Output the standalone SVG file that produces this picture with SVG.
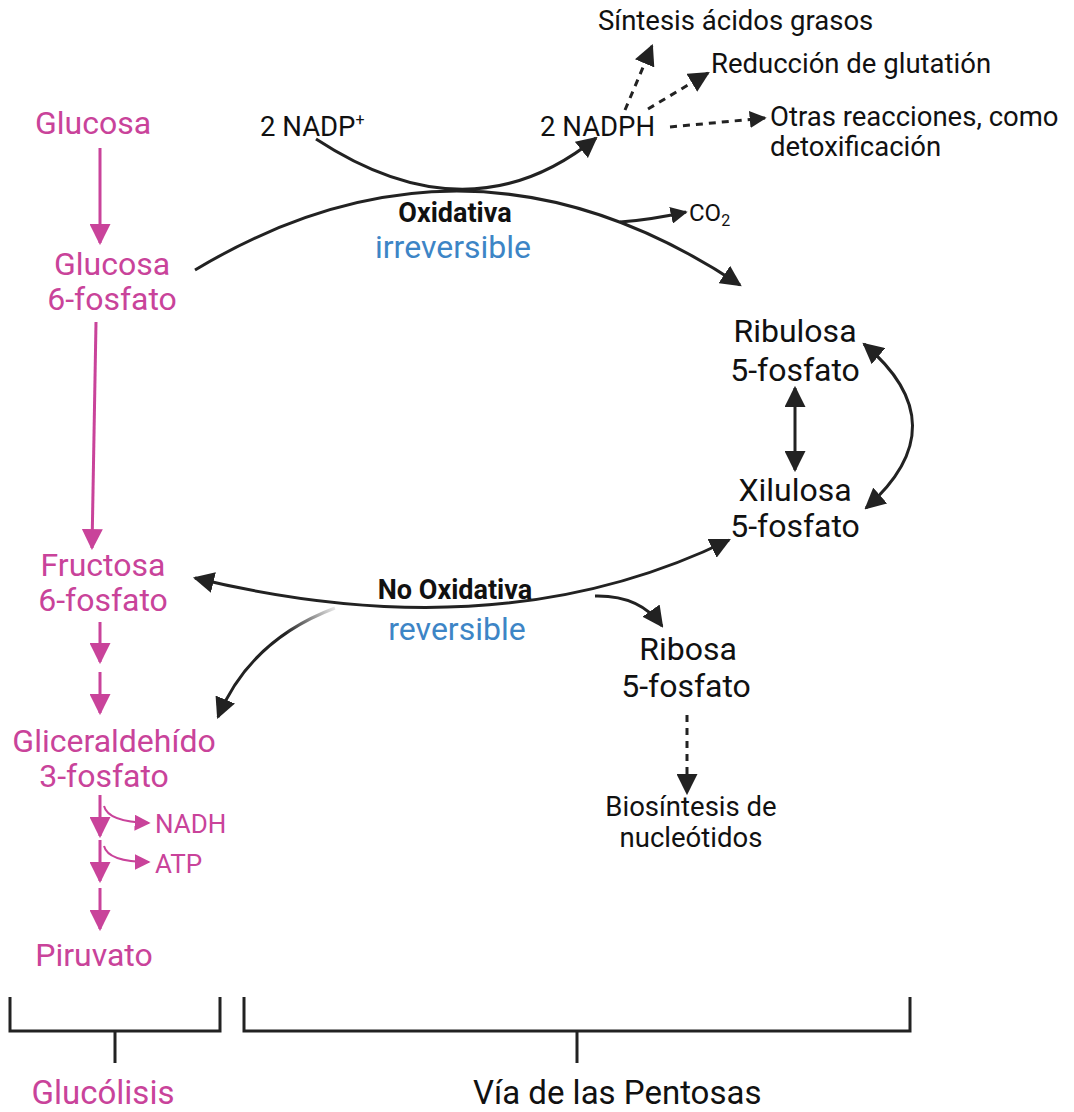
<svg xmlns="http://www.w3.org/2000/svg" width="1074" height="1112" viewBox="0 0 1074 1112">
  <style>
    text { font-family: Roboto, "Liberation Sans", sans-serif; }
    .pk { fill: #c9439a; }
    .bk { fill: #111; }
    .bl { fill: #3d85c6; }
    .big { font-size: 32px; }
    .mid { font-size: 27.5px; }
    .sm { font-size: 26px; }
    .foot { font-size: 33px; }
    .bold { font-size: 27px; font-weight: bold; }
    .pline { stroke: #c9439a; stroke-width: 3; fill: none; }
    .pthin { stroke: #c9439a; stroke-width: 2; fill: none; }
    .kline { stroke: #222; stroke-width: 3; fill: none; }
    .dash { stroke: #222; stroke-width: 3; fill: none; stroke-dasharray: 7 6; }
    .brk { stroke: #222; stroke-width: 3; fill: none; }
  </style>
  <defs>
    <marker id="ap" viewBox="0 0 10 10" refX="9" refY="5" markerWidth="16" markerHeight="16" markerUnits="userSpaceOnUse" orient="auto">
      <path d="M0,0 L10,5 L0,10 z" fill="#c9439a"/>
    </marker>
    <marker id="apL" viewBox="0 0 10 10" refX="9" refY="5" markerWidth="21" markerHeight="21" markerUnits="userSpaceOnUse" orient="auto">
      <path d="M0,0 L10,5 L0,10 z" fill="#c9439a"/>
    </marker>
    <marker id="ak" viewBox="0 0 10 10" refX="9" refY="5" markerWidth="21" markerHeight="21" markerUnits="userSpaceOnUse" orient="auto-start-reverse">
      <path d="M0,0 L10,5 L0,10 z" fill="#222"/>
    </marker>
    <marker id="aks" viewBox="0 0 10 10" refX="9" refY="5" markerWidth="17" markerHeight="17" markerUnits="userSpaceOnUse" orient="auto">
      <path d="M0,0 L10,5 L0,10 z" fill="#222"/>
    </marker>
    <linearGradient id="fade" gradientUnits="userSpaceOnUse" x1="335" y1="608" x2="290" y2="640">
      <stop offset="0" stop-color="#222" stop-opacity="0.1"/>
      <stop offset="1" stop-color="#222"/>
    </linearGradient>
  </defs>

  <!-- glycolysis nodes -->
  <g id="glucosa"><text class="pk big" x="93" y="134" text-anchor="middle">Glucosa</text></g>
  <g id="glucosa-6p">
    <text class="pk big" x="112" y="275" text-anchor="middle">Glucosa</text>
    <text class="pk big" x="112" y="310" text-anchor="middle">6-fosfato</text>
  </g>
  <g id="fructosa-6p">
    <text class="pk big" x="103" y="576" text-anchor="middle">Fructosa</text>
    <text class="pk big" x="103" y="611" text-anchor="middle">6-fosfato</text>
  </g>
  <g id="gliceraldehido-3p">
    <text class="pk big" x="114" y="752" text-anchor="middle">Gliceraldehído</text>
    <text class="pk big" x="104" y="787" text-anchor="middle">3-fosfato</text>
  </g>
  <g id="nadh"><text class="pk sm" x="155" y="833">NADH</text></g>
  <g id="atp"><text class="pk sm" x="155" y="873">ATP</text></g>
  <g id="piruvato"><text class="pk big" x="94" y="966" text-anchor="middle">Piruvato</text></g>

  <!-- pentose phosphate nodes -->
  <g id="nadp"><text class="bk mid" x="260" y="136">2 NADP<tspan font-size="16" dy="-11">+</tspan></text></g>
  <g id="nadph"><text class="bk mid" x="540" y="136">2 NADPH</text></g>
  <g id="sintesis"><text class="bk mid" x="598" y="30">Síntesis ácidos grasos</text></g>
  <g id="glutation"><text class="bk mid" x="711" y="73">Reducción de glutatión</text></g>
  <g id="otras">
    <text class="bk mid" x="770" y="126">Otras reacciones, como</text>
    <text class="bk mid" x="770" y="156">detoxificación</text>
  </g>
  <g id="co2"><text class="bk" font-size="24" x="689" y="221">CO<tspan font-size="16" dy="5">2</tspan></text></g>
  <g id="fase-oxidativa">
    <text class="bk bold" x="455" y="222" text-anchor="middle">Oxidativa</text>
    <text class="bl big" x="453" y="258" text-anchor="middle">irreversible</text>
  </g>
  <g id="ribulosa-5p">
    <text class="bk big" x="795" y="342" text-anchor="middle">Ribulosa</text>
    <text class="bk big" x="795" y="381" text-anchor="middle">5-fosfato</text>
  </g>
  <g id="xilulosa-5p">
    <text class="bk big" x="795" y="501" text-anchor="middle">Xilulosa</text>
    <text class="bk big" x="795" y="537" text-anchor="middle">5-fosfato</text>
  </g>
  <g id="fase-no-oxidativa">
    <text class="bk bold" x="455" y="599" text-anchor="middle">No Oxidativa</text>
    <text class="bl big" x="457" y="640" text-anchor="middle">reversible</text>
  </g>
  <g id="ribosa-5p">
    <text class="bk big" x="688" y="660" text-anchor="middle">Ribosa</text>
    <text class="bk big" x="686" y="697" text-anchor="middle">5-fosfato</text>
  </g>
  <g id="nucleotidos">
    <text class="bk mid" x="691" y="816" text-anchor="middle">Biosíntesis de</text>
    <text class="bk mid" x="691" y="847" text-anchor="middle">nucleótidos</text>
  </g>

  <!-- section labels with brackets -->
  <g id="glucolisis">
    <path class="brk" d="M10,997 V1031 H220 V997 M115,1031 V1063"/>
    <text class="pk foot" x="103" y="1104" text-anchor="middle">Glucólisis</text>
  </g>
  <g id="via-pentosas">
    <path class="brk" d="M244,997 V1031 H910 V997 M577,1031 V1063"/>
    <text class="bk foot" x="473" y="1104">Vía de las Pentosas</text>
  </g>

  <g id="connectors">
    <!-- glycolysis -->
    <path class="pline" d="M100,148 V243" marker-end="url(#apL)"/>
    <path class="pline" d="M96,322 L92,548" marker-end="url(#apL)"/>
    <path class="pline" d="M100,622 V662" marker-end="url(#apL)"/>
    <path class="pline" d="M100,672 V713" marker-end="url(#apL)"/>
    <path class="pline" d="M100,795 V836" marker-end="url(#apL)"/>
    <path class="pline" d="M100,840 V881" marker-end="url(#apL)"/>
    <path class="pline" d="M100,888 V929" marker-end="url(#apL)"/>
    <path class="pthin" d="M104,806 Q108,822 149,823" marker-end="url(#ap)"/>
    <path class="pthin" d="M104,846 Q108,862 149,862" marker-end="url(#ap)"/>

    <!-- oxidative phase -->
    <path class="kline" d="M316,139 Q470,240 596,138" marker-end="url(#ak)"/>
    <path class="kline" d="M195,270 Q470,105 740,285" marker-end="url(#ak)"/>
    <path class="kline" stroke-width="2" d="M620,222 Q650,220 686,212" marker-end="url(#aks)"/>

    <!-- NADPH uses -->
    <path class="dash" d="M625,110 L652,46" marker-end="url(#ak)"/>
    <path class="dash" d="M648,109 L708,73" marker-end="url(#ak)"/>
    <path class="dash" stroke-width="2" d="M670,127 L765,118" marker-end="url(#aks)"/>

    <!-- ribulose / xylulose -->
    <path class="kline" d="M795,388 V470" marker-start="url(#ak)" marker-end="url(#ak)"/>
    <path class="kline" d="M864,344 Q960,425 866,508" marker-start="url(#ak)" marker-end="url(#ak)"/>

    <!-- non-oxidative phase -->
    <path class="kline" d="M195,578 Q500,652 729,540" marker-start="url(#ak)" marker-end="url(#ak)"/>
    <path class="kline" d="M595,596 Q640,595 662,626" marker-end="url(#ak)"/>
    <path stroke="url(#fade)" stroke-width="3" fill="none" d="M335,608 Q250,640 218,717" marker-end="url(#ak)"/>
    <path class="dash" d="M687,715 V793" marker-end="url(#ak)"/>
  </g>
</svg>
